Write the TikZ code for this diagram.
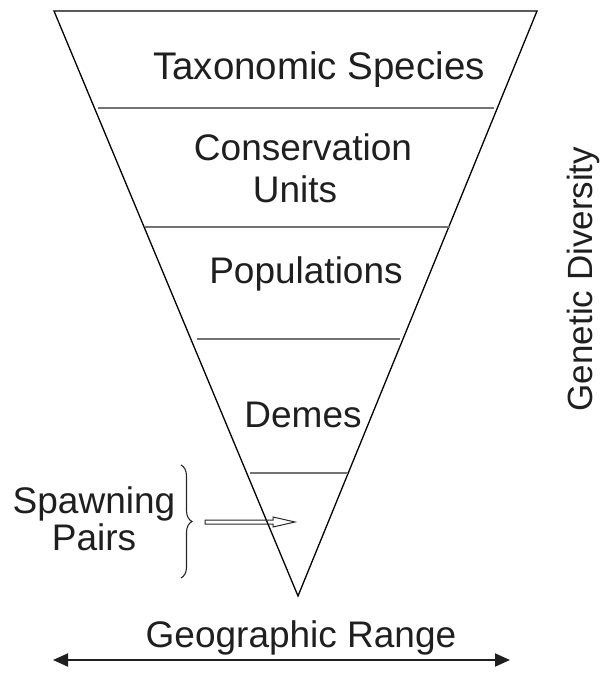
\documentclass[tikz,border=0pt]{standalone}
\usepackage{fontspec}
\setmainfont{Liberation Sans}
\usetikzlibrary{decorations.pathreplacing,arrows.meta}
\begin{document}
\begin{tikzpicture}[x=1pt,y=-1pt,
  lbl/.style={anchor=base,inner sep=0pt,font=\fontsize{37}{44}\selectfont,text=black!88},
  edge/.style={line width=1.3pt,black},
  level/.style={line width=1.8pt,black!55},
]
\useasboundingbox (0,0) rectangle (603,673);
% funnel
\coordinate (tl) at (54,11);
\coordinate (tr) at (537,11);
\coordinate (apex) at (298,596);
\draw[edge] (tl) -- (tr) -- (apex) -- cycle;
% level lines
\coordinate (l1a) at (98,108); \coordinate (l1b) at (494,108);
\coordinate (l2a) at (145,227); \coordinate (l2b) at (450,227);
\coordinate (l3a) at (197,339); \coordinate (l3b) at (400,339);
\coordinate (l4a) at (250,473); \coordinate (l4b) at (348,473);
\draw[level] (l1a) -- (l1b);
\draw[level] (l2a) -- (l2b);
\draw[level] (l3a) -- (l3b);
\draw[level] (l4a) -- (l4b);
% labels
\node[lbl,font=\fontsize{38.5}{46}\selectfont] (tax) at (319,79) {Taxonomic Species};
\node[lbl] (cons) at (303,160) {Conservation};
\node[lbl] (units) at (295,202) {Units};
\node[lbl] (pop) at (306,283) {Populations};
\node[lbl] (demes) at (303,427) {Demes};
\node[lbl] (spawn) at (94,513) {Spawning};
\node[lbl] (pairs) at (94,550) {Pairs};
\node[lbl,rotate=90,font=\fontsize{35}{42}\selectfont] (gen) at (592,279) {Genetic Diversity};
\node[lbl] (geo) at (301,647) {Geographic Range};
% brace
\coordinate (bt) at (181,465);
\coordinate (bb) at (181,578);
\draw[line width=1.1pt,black!85,decorate,decoration={brace,amplitude=11pt}] (bt) -- (bb);
% hollow arrow
\draw[line width=1pt,black!85] (205,520) -- (273,520) -- (273,517) -- (295,522) -- (273,527) -- (273,524) -- (205,524) -- cycle;
% geographic range arrow
\coordinate (gl) at (53,660);
\coordinate (gr) at (510,660);
\draw[line width=2pt,black!88,{Triangle[length=15pt,width=13pt]}-{Triangle[length=15pt,width=13pt]}] (gl) -- (gr);
\end{tikzpicture}
\end{document}
